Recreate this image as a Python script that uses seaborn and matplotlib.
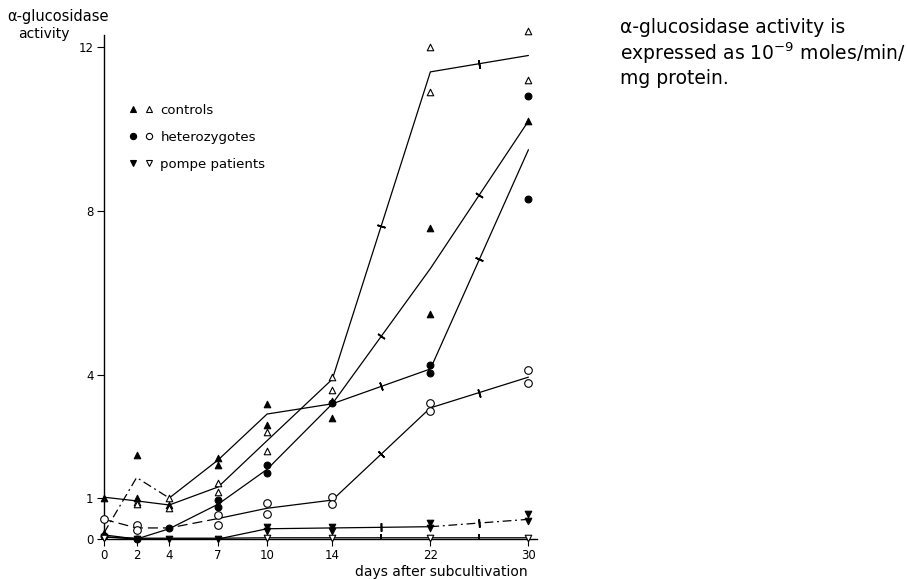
import numpy as np
import pandas as pd
import matplotlib
matplotlib.use("Agg")
import matplotlib.pyplot as plt
from matplotlib.lines import Line2D
from matplotlib.legend_handler import HandlerTuple
from matplotlib.ticker import NullLocator
import seaborn as sns

# ---------------------------------------------------------------- data
days = [0, 2, 4, 7, 10, 14, 22, 30]
y_ticks = [0, 1, 4, 8, 12]

# single cultures: one list of readings per day
controls_filled = [[1.0, 0.15], [2.05, 1.0], [0.83], [1.97, 1.8],
                   [3.3, 2.78], [3.38, 2.95], [7.6, 5.5], [10.2]]
controls_open = [[], [0.9, 0.85], [1.0, 0.75], [1.37, 1.15],
                 [2.6, 2.15], [3.95, 3.63], [12.0, 10.9], [12.4, 11.2]]
hetero_filled = [[0.08], [0.0], [0.27], [0.95, 0.77],
                 [1.8, 1.6], [3.33], [4.25, 4.05], [10.8, 8.3]]
hetero_open = [[0.48], [0.34, 0.21], [], [0.59, 0.35],
               [0.87, 0.6], [1.02, 0.86], [3.32, 3.12], [4.12, 3.8]]
pompe_filled = [[0.05], [0.0], [0.0], [0.0],
                [0.3, 0.2], [0.3, 0.2], [0.38, 0.26], [0.62, 0.45]]
pompe_open = [[0.03], [], [], [], [0.03], [0.03], [0.03], [0.03]]

# mean curves
curve_controls_filled = [0.15, 1.5, 1.0, 1.93, 3.05, 3.3, 6.6, 10.2]
curve_controls_open = [1.02, 0.93, 0.83, 1.27, 2.4, 3.9, 11.4, 11.8]
curve_hetero_filled = [0.1, 0.0, 0.25, 0.85, 1.7, 3.3, 4.15, 9.5]
curve_hetero_open = [0.48, 0.27, 0.27, 0.5, 0.75, 0.95, 3.2, 3.95]
curve_pompe_filled = [0.05, 0.0, 0.0, 0.0, 0.25, 0.27, 0.3, 0.48]
curve_pompe_open = [0.05, 0.02, 0.02, 0.02, 0.03, 0.03, 0.03, 0.03]

legend_labels = ["controls", "heterozygotes", "pompe patients"]

# ---------------------------------------------------------------- style
sns.set_style("ticks")
plt.rcParams["font.family"] = ["DejaVu Sans"]
for key in ("text.color", "axes.labelcolor", "axes.edgecolor",
            "xtick.color", "ytick.color"):
    plt.rcParams[key] = "black"

W, H = 907, 580
fig = plt.figure(figsize=(W / 100, H / 100), dpi=100)
ax = fig.add_axes([104 / W, 41 / H, 433 / W, 504 / H])

# time axis: wider spacing per day up to day 14, tighter afterwards
BREAK, R1, R2 = 14.0, 16.3, 12.25


def fwd(x):
    x = np.asarray(x, dtype=float)
    return np.where(x <= BREAK, x * R1, BREAK * R1 + (x - BREAK) * R2)


def inv(u):
    u = np.asarray(u, dtype=float)
    return np.where(u <= BREAK * R1, u / R1, BREAK + (u - BREAK * R1) / R2)


ax.set_xscale("function", functions=(fwd, inv))
ax.set_xlim(0, 30.7)
ax.set_ylim(0, 12.3)

# ---------------------------------------------------------------- points
def to_frame(readings):
    rows = [(d, v) for d, vals in zip(days, readings) for v in vals]
    return pd.DataFrame(rows, columns=["day", "activity"])


point_sets = [
    (controls_filled, "^", True, 22),
    (controls_open, "^", False, 22),
    (hetero_filled, "o", True, 24),
    (hetero_open, "o", False, 30),
    (pompe_filled, "v", True, 22),
    (pompe_open, "v", False, 22),
]
for readings, marker, filled, size in point_sets:
    df = to_frame(readings)
    sns.scatterplot(data=df, x="day", y="activity", marker=marker, s=size,
                    color="black" if filled else "white", edgecolor="black",
                    linewidth=0.8, zorder=4, clip_on=False, ax=ax)

# ---------------------------------------------------------------- curves
SOLID = "-"
DASHED = (0, (8, 4))
DASHDOT = (0, (7, 3, 1.5, 3))

curves = [
    (curve_controls_filled, [(0, 2, DASHDOT), (2, 7, SOLID)]),
    (curve_controls_open, [(0, 7, SOLID)]),
    (curve_hetero_filled, [(0, 7, SOLID)]),
    (curve_hetero_open, [(0, 3, DASHED), (3, 7, SOLID)]),
    (curve_pompe_filled, [(0, 6, SOLID), (6, 7, DASHDOT)]),
    (curve_pompe_open, [(0, 7, SOLID)]),
]
for values, pieces in curves:
    for i0, i1, ls in pieces:
        sns.lineplot(x=days[i0:i1 + 1], y=values[i0:i1 + 1], color="black",
                     linewidth=0.9, linestyle=ls, estimator=None, sort=False,
                     zorder=3, ax=ax)

# short cross-strokes halfway along the late segments of each curve
for values, _ in curves:
    for i in (5, 6):
        p1 = ax.transData.transform((days[i], values[i]))
        p2 = ax.transData.transform((days[i + 1], values[i + 1]))
        theta = np.degrees(np.arctan2(p2[1] - p1[1], p2[0] - p1[0]))
        xm = (days[i] + days[i + 1]) / 2
        ym = (values[i] + values[i + 1]) / 2
        ax.plot([xm], [ym], linestyle="none", marker=(2, 2, theta),
                markersize=6, markeredgewidth=1.2, color="black", zorder=3)

# ---------------------------------------------------------------- axes
ax.set_xticks(days)
ax.set_xticklabels([str(d) for d in days])
ax.xaxis.set_minor_locator(NullLocator())
ax.set_yticks(y_ticks)
ax.set_yticklabels([str(v) for v in y_ticks])
ax.tick_params(direction="out", length=5, width=0.8, labelsize=8.5, pad=2.5)
for side in ("left", "bottom"):
    ax.spines[side].set_linewidth(1.0)
sns.despine(ax=ax)
ax.set_ylabel("")
ax.set_xlabel("days after subcultivation", fontsize=10, ha="right")
ax.xaxis.set_label_coords((528 - 104) / 433, (539 - 565) / 504)


# ---------------------------------------------------------------- legend
def handle(marker, filled):
    return Line2D([], [], linestyle="none", marker=marker, markersize=4.5,
                  markerfacecolor="black" if filled else "white",
                  markeredgecolor="black", markeredgewidth=0.8)


handles = [(handle("^", True), handle("^", False)),
           (handle("o", True), handle("o", False)),
           (handle("v", True), handle("v", False))]
ax.legend(handles, legend_labels,
          handler_map={tuple: HandlerTuple(ndivide=None, pad=0.8)},
          loc="upper left", bbox_to_anchor=(130 / W, 1 - 104 / H),
          bbox_transform=fig.transFigure, frameon=False, fontsize=9.5,
          handlelength=1.7, handletextpad=0.6, labelspacing=1.05,
          borderpad=0, borderaxespad=0)

# ---------------------------------------------------------------- texts
fig.text(7 / W, 1 - 17 / H, "α-glucosidase", fontsize=10.5, va="center")
fig.text(18 / W, 1 - 34 / H, "activity", fontsize=10, va="center")

fig.text(620 / W, 1 - 18 / H,
         "α-glucosidase activity is\n"
         "expressed as 10$^{-9}$ moles/min/\n"
         "mg protein.",
         fontsize=13.5, va="top", ha="left", linespacing=1.2)

fig.savefig("out.png", dpi=100, facecolor="white")
